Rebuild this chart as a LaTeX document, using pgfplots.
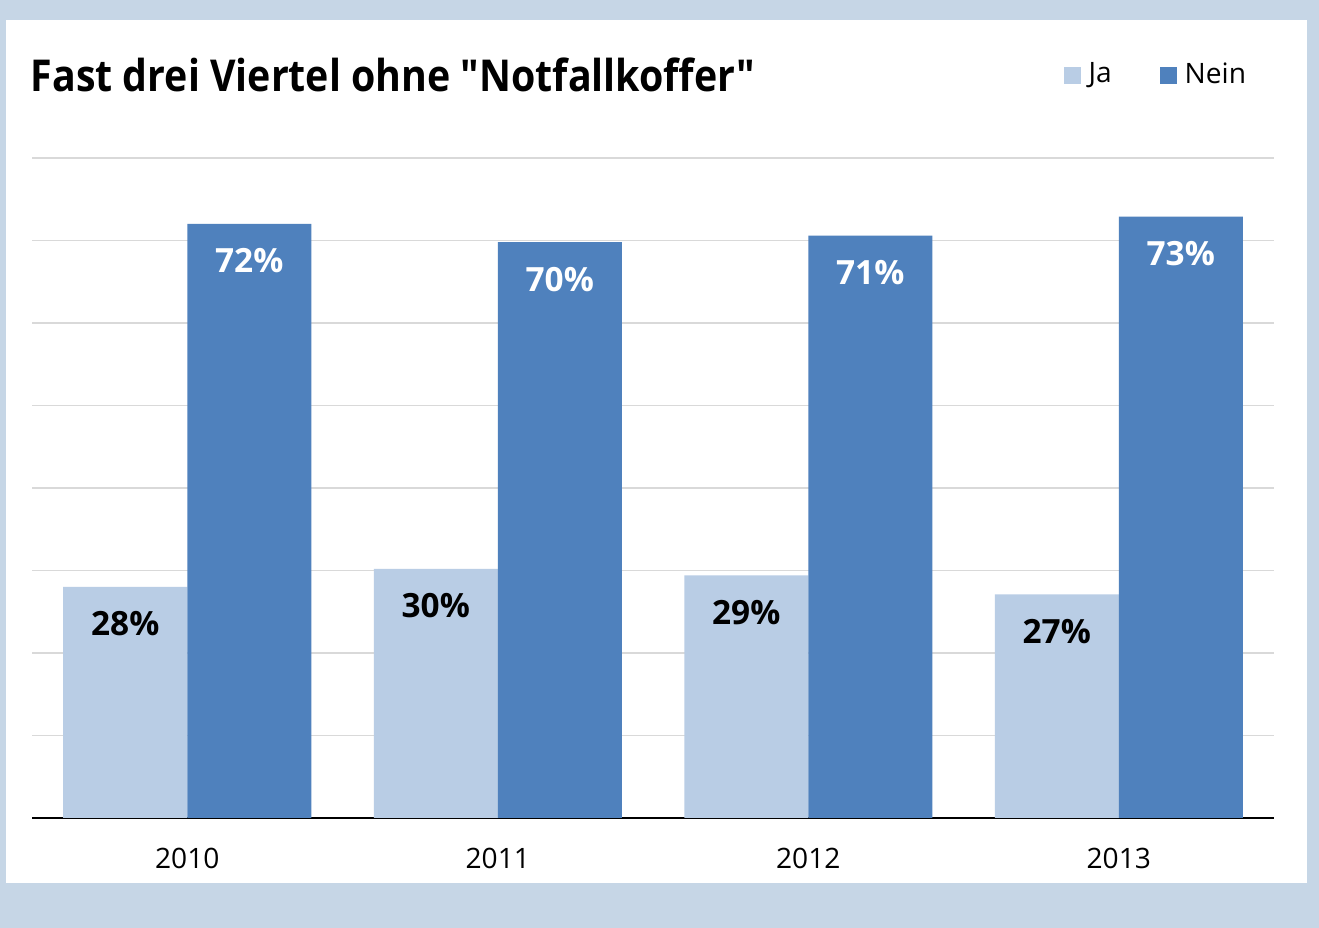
\documentclass[border=0pt]{standalone}
\usepackage{pgfplots}
\pgfplotsset{compat=1.18}
\usepackage{fontspec}
\setmainfont{Open Sans}
\newfontfamily\titlefont[FakeStretch=0.895]{Open Sans}

\definecolor{bgblue}{RGB}{198,214,230}
\definecolor{jablue}{RGB}{185,205,229}
\definecolor{neinblue}{RGB}{79,129,189}
\definecolor{gridgray}{RGB}{217,217,217}

\pgfplotsset{
  sq legend/.style={legend image code/.code={
    \fill[##1] (0cm,-0.085cm) rectangle (0.17cm,0.085cm);}},
}

\begin{document}
\begin{tikzpicture}
% frame
\fill[bgblue] (0,0) rectangle (13.19,9.28);
\fill[white] (0.06,0.45) rectangle (13.07,9.08);
\node[anchor=west, inner sep=0pt, font=\titlefont\bfseries\fontsize{12.5}{15}\selectfont]
  at (0.30,8.53) {Fast drei Viertel ohne "Notfallkoffer"};

\begin{axis}[
  at={(0.32cm,1.10cm)}, anchor=south west,
  scale only axis, width=12.42cm, height=6.60cm,
  ybar=0pt, bar width=1.24cm,
  ymin=0, ymax=80, ytick={10,20,...,80}, yticklabels={},
  ymajorgrids, major grid style={draw=gridgray, line width=0.3pt},
  xmin=-0.5, xmax=3.5, xtick=data, xticklabels={2010,2011,2012,2013},
  axis x line*=bottom, axis y line*=left,
  x axis line style={black, line width=0.45pt},
  y axis line style={draw=none},
  xtick style={draw=none}, ytick style={draw=none},
  xticklabel style={font=\fontsize{8}{10}\selectfont, yshift=-0.03cm},
  /pgf/number format/.cd, assume math mode=true, fixed, precision=0,
  /pgfplots/.cd,
  nodes near coords={\pgfmathprintnumber{\pgfplotspointmeta}\%},
  nodes near coords style={anchor=center, yshift=-0.37cm,
    font=\bfseries\fontsize{9.5}{11}\selectfont},
  legend columns=2,
  legend style={at={(0.830,1.125)}, anchor=west, draw=none, fill=none,
    inner sep=0pt, font=\fontsize{8}{10}\selectfont,
    nodes={inner sep=0pt}, cells={anchor=west},
    /tikz/every odd column/.append style={column sep=0.08cm},
    /tikz/every even column/.append style={column sep=0.48cm}},
]
\addplot[fill=jablue, draw=none, sq legend, nodes near coords style={text=black}]
  coordinates {(0,28.0) (1,30.2) (2,29.4) (3,27.1)};
\addplot[fill=neinblue, draw=none, sq legend, nodes near coords style={text=white}]
  coordinates {(0,72.0) (1,69.8) (2,70.6) (3,72.9)};
\legend{Ja, Nein}
\end{axis}
\pgfresetboundingbox
\useasboundingbox (0,0) rectangle (13.19,9.28);
\end{tikzpicture}
\end{document}
